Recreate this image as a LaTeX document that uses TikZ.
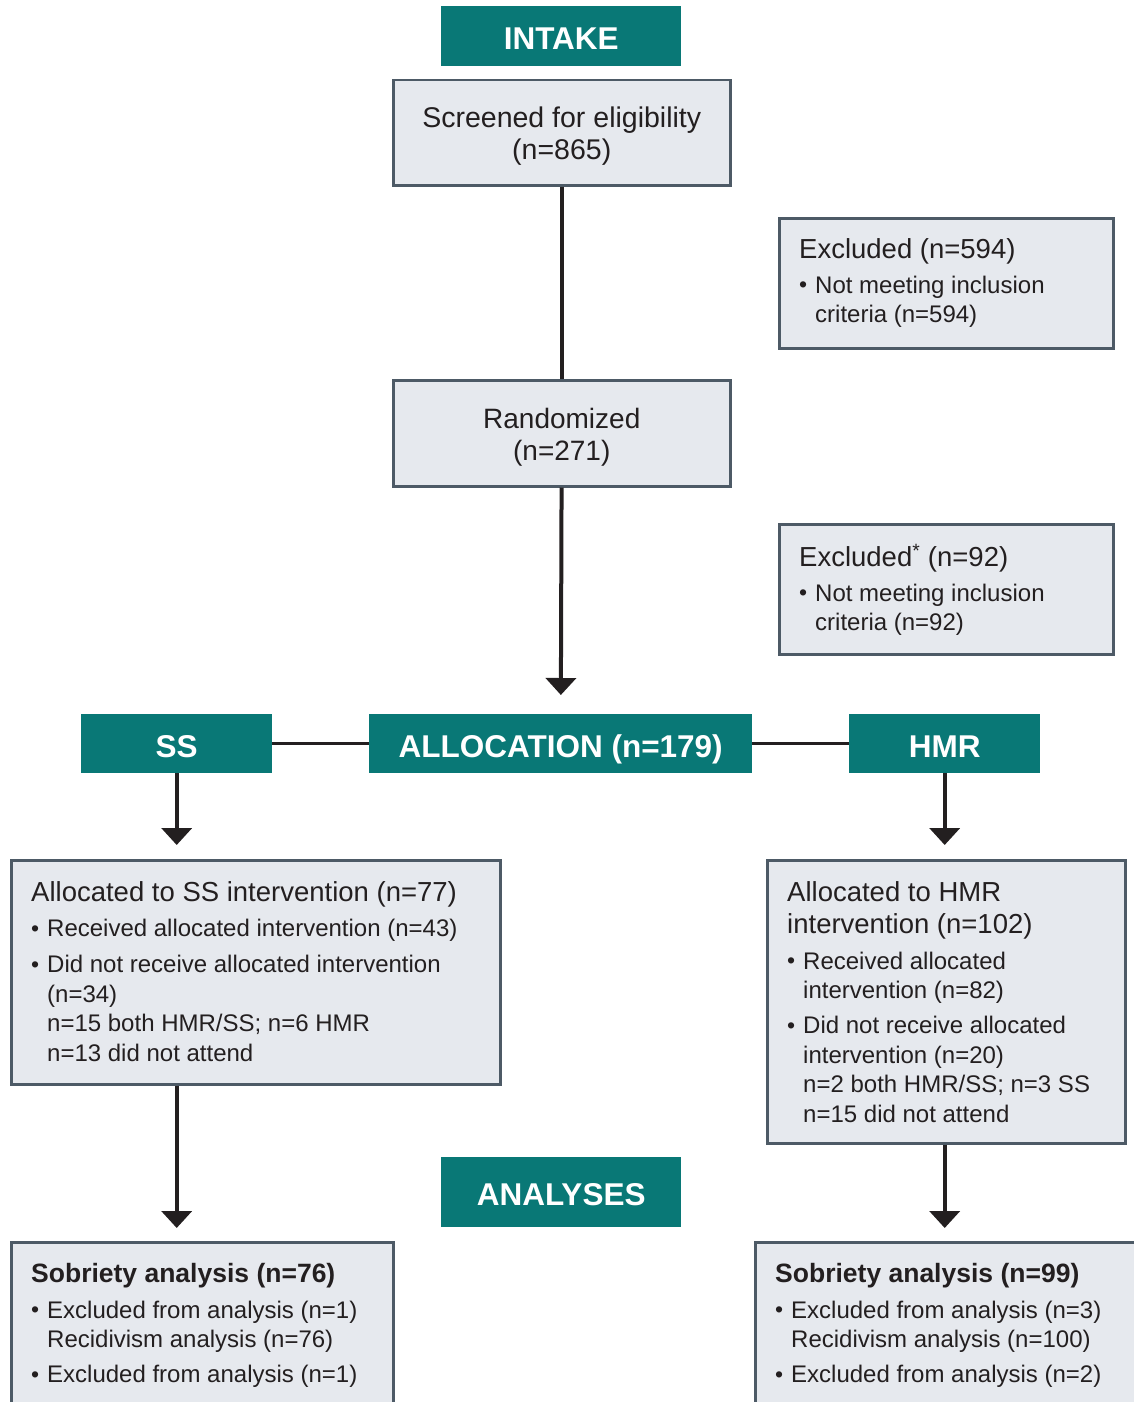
\documentclass[tikz,border=0pt]{standalone}
\usepackage{fontspec}
\setmainfont{Liberation Sans}
\usetikzlibrary{arrows.meta,positioning}
\definecolor{headteal}{RGB}{9,120,118}
\definecolor{boxfill}{RGB}{230,233,238}
\definecolor{boxline}{RGB}{77,90,102}
\definecolor{ink}{RGB}{35,31,32}
\newcommand{\bul}{\makebox[16pt][l]{\raisebox{0.5pt}{\fontsize{23}{0}\selectfont\textbullet}}}
\newcommand{\ind}{\hspace*{16pt}}
\newcommand{\ttl}[1]{{\fontsize{27.5}{0}\selectfont #1}}
\newcommand{\btl}[1]{{\fontsize{26.5}{0}\selectfont\bfseries #1}}
\begin{document}
\begin{tikzpicture}[x=1pt,y=-1pt,
                    head/.style={fill=headteal, text=white, inner sep=0pt, anchor=north west,
                                 text height=26.7pt, text depth=0pt,
                                 font=\fontsize{31.5}{36}\selectfont\bfseries},
                    box/.style={draw=boxline, line width=2.5pt, fill=boxfill, inner sep=0pt,
                                anchor=north west, text=ink},
                    txt/.style={anchor=north west, inner sep=0pt, align=left, text=ink,
                                font=\fontsize{24}{29.5}\selectfont},
                    conn/.style={draw=ink, line width=4pt},
                    link/.style={draw=ink, line width=2.5pt},
                    arr/.style={conn, -{Triangle[width=30pt,length=17pt]}}]
    \useasboundingbox (0,0) rectangle (1134,1402);

    \node[head, minimum width=240pt, minimum height=60pt] (intake) at (441,6) {INTAKE};
    \node[box, minimum width=337pt, minimum height=105pt, align=center,
          font=\fontsize{28.5}{32}\selectfont] (screen) at (392,79)
        {\rule{0pt}{28pt}Screened for eligibility\\(n=865)};
    \node[box, minimum width=337pt, minimum height=106pt, align=center,
          font=\fontsize{28}{32}\selectfont] (rand) at (392,379)
        {\rule{0pt}{28pt}Randomized\\(n=271)};

    \node[box, minimum width=334pt, minimum height=130pt] (excl1) at (778,217) {};
    \node[txt] (excl1txt) at ([shift={(21pt,-21pt)}]excl1.north west)
        {\ttl{Excluded (n=594)}\\[5.5pt]
         \bul Not meeting inclusion\\
         \ind criteria (n=594)};
    \node[box, minimum width=334pt, minimum height=130pt] (excl2) at (778,523) {};
    \node[txt] (excl2txt) at ([shift={(21pt,-21pt)}]excl2.north west)
        {\ttl{Excluded\textsuperscript{*} (n=92)}\\[5.5pt]
         \bul Not meeting inclusion\\
         \ind criteria (n=92)};

    \node[head, minimum width=191pt, minimum height=59pt] (ss) at (81,714) {SS};
    \node[head, minimum width=383pt, minimum height=59pt] (alloc) at (369,714) {ALLOCATION (n=179)};
    \node[head, minimum width=191pt, minimum height=59pt] (hmr) at (849,714) {HMR};

    \node[box, minimum width=489pt, minimum height=224pt] (ssbox) at (10,859) {};
    \node[txt] (ssboxtxt) at ([shift={(21pt,-22pt)}]ssbox.north west)
        {\ttl{Allocated to SS intervention (n=77)}\\[6pt]
         \bul Received allocated intervention (n=43)\\[6.5pt]
         \bul Did not receive allocated intervention\\
         \ind (n=34)\\
         \ind n=15 both HMR/SS; n=6 HMR\\
         \ind n=13 did not attend};
    \node[box, minimum width=358pt, minimum height=283pt] (hmrbox) at (766,859) {};
    \node[txt] (hmrboxtxt) at ([shift={(21pt,-22pt)}]hmrbox.north west)
        {\ttl{Allocated to HMR}\\[2.5pt]
         \ttl{intervention (n=102)}\\[6.5pt]
         \bul Received allocated\\
         \ind intervention (n=82)\\[5.5pt]
         \bul Did not receive allocated\\
         \ind intervention (n=20)\\
         \ind n=2 both HMR/SS; n=3 SS\\
         \ind n=15 did not attend};

    \node[head, minimum width=240pt, minimum height=70pt] (analyses) at (441,1157) {ANALYSES};

    \node[box, minimum width=382pt, minimum height=220pt] (sobss) at (10,1241) {};
    \node[txt] (sobsstxt) at ([shift={(21pt,-22pt)}]sobss.north west)
        {\btl{Sobriety analysis (n=76)}\\[6.5pt]
         \bul Excluded from analysis (n=1)\\
         \ind Recidivism analysis (n=76)\\[5.5pt]
         \bul Excluded from analysis (n=1)};
    \node[box, minimum width=400pt, minimum height=220pt] (sobhmr) at (754,1241) {};
    \node[txt] (sobhmrtxt) at ([shift={(21pt,-22pt)}]sobhmr.north west)
        {\btl{Sobriety analysis (n=99)}\\[6.5pt]
         \bul Excluded from analysis (n=3)\\
         \ind Recidivism analysis (n=100)\\[5.5pt]
         \bul Excluded from analysis (n=2)};

    \draw[conn] (screen) -- (rand);
    \draw[arr, shorten >=19pt] (rand) -- (alloc);
    \draw[link] (ss) -- (alloc);
    \draw[link] (alloc) -- (hmr);
    \draw[arr, shorten >=14pt] (ss.south) -- (ss.south |- ssbox.north);
    \draw[arr, shorten >=14pt] (hmr.south) -- (hmr.south |- hmrbox.north);
    \draw[arr, shorten >=13pt] (ss.south |- ssbox.south) -- (ss.south |- sobss.north);
    \draw[arr, shorten >=13pt] (hmr.south |- hmrbox.south) -- (hmr.south |- sobhmr.north);
\end{tikzpicture}
\end{document}
